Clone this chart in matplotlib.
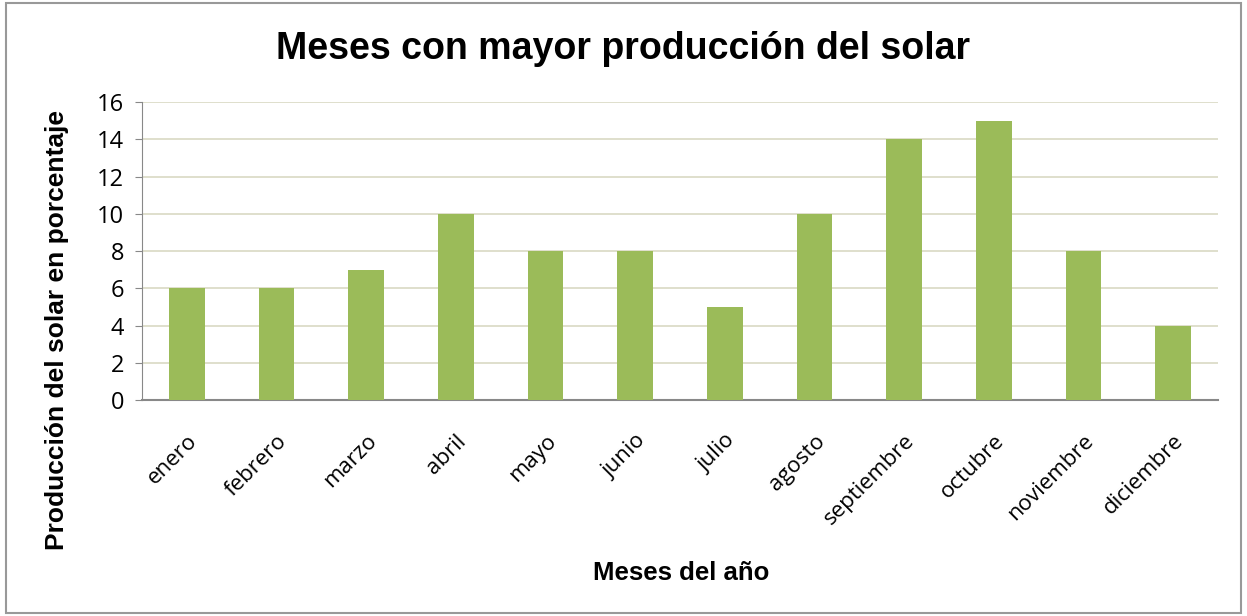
import matplotlib
matplotlib.use('Agg')
import matplotlib.pyplot as plt
from matplotlib.patches import Rectangle

meses = ['enero', 'febrero', 'marzo', 'abril', 'mayo', 'junio', 'julio',
         'agosto', 'septiembre', 'octubre', 'noviembre', 'diciembre']
produccion = [6, 6, 7, 10, 8, 8, 5, 10, 14, 15, 8, 4]
yticks = [0, 2, 4, 6, 8, 10, 12, 14, 16]

fig = plt.figure(figsize=(12.47, 6.16), dpi=100)
ax = fig.add_axes([0.1139, 0.3506, 0.8628, 0.4838])

x = range(len(meses))
ax.bar(x, produccion, width=0.4, color='#9BBB59', zorder=3)

ax.set_xlim(-0.5, len(meses) - 0.5)
ax.set_ylim(0, 16)
ax.set_yticks(yticks)
ax.yaxis.grid(True, color='#D9D9C3', linewidth=1.2, zorder=0)
ax.set_xticks(list(x))
ax.set_xticklabels(meses, rotation=45, ha='right', rotation_mode='anchor',
                   fontsize=16, family='Open Sans')
for lab in ax.get_yticklabels():
    lab.set_family('Open Sans')
    lab.set_fontsize(17)
ax.tick_params(axis='x', length=0, pad=22)
ax.tick_params(axis='y', length=5, color='#888888', pad=8)

for s in ['top', 'right']:
    ax.spines[s].set_visible(False)
ax.spines['left'].set_color('#888888')
ax.spines['bottom'].set_color('#888888')
ax.spines['bottom'].set_linewidth(1.5)

fig.text(0.5, 0.92, 'Meses con mayor producción del solar', ha='center', va='center',
         fontsize=27, fontweight='bold', family='Liberation Sans')
fig.text(0.546, 0.07, 'Meses del año', ha='center', va='center',
         fontsize=18.5, fontweight='bold', family='Liberation Sans')
fig.text(0.046, 0.464, 'Producción del solar en porcentaje', ha='center', va='center',
         rotation=90, fontsize=19, fontweight='bold', family='Liberation Sans')

fig.patches.append(Rectangle((0.005, 0.005), 0.99, 0.99, transform=fig.transFigure,
                             fill=False, edgecolor='#999999', linewidth=1.5))

fig.savefig('out.png', dpi=100)
